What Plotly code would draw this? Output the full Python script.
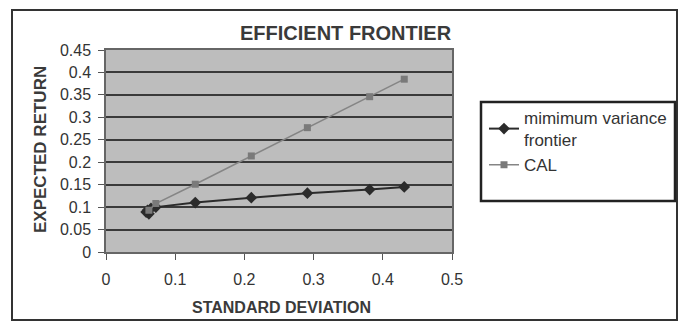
import plotly.graph_objects as go

# Data
frontier_sd = [0.062, 0.058, 0.060, 0.065, 0.072, 0.129, 0.210, 0.291, 0.381, 0.431]
frontier_er = [0.085, 0.089, 0.093, 0.097, 0.100, 0.110, 0.121, 0.131, 0.139, 0.145]
cal_sd = [0.062, 0.072, 0.129, 0.210, 0.291, 0.381, 0.431]
cal_er = [0.093, 0.108, 0.151, 0.214, 0.277, 0.346, 0.385]
x_ticks = [0, 0.1, 0.2, 0.3, 0.4, 0.5]
y_ticks = [0, 0.05, 0.1, 0.15, 0.2, 0.25, 0.3, 0.35, 0.4, 0.45]

W, H = 684, 321
L, R, T, B = 106, 452, 50, 252

def px(x):
    return (x - L) / (R - L)

def py(y):
    return (B - y) / (B - T)

FONT = "Arial, Liberation Sans, sans-serif"
TXT = "#333333"

fig = go.Figure()
fig.add_trace(go.Scatter(
    x=frontier_sd, y=frontier_er, mode="lines+markers",
    name="mimimum variance<br>frontier",
    line=dict(color="#2b2b2b", width=2),
    marker=dict(symbol="diamond", size=9, color="#2b2b2b"),
))
fig.add_trace(go.Scatter(
    x=cal_sd, y=cal_er, mode="lines+markers", name="CAL",
    line=dict(color="#858585", width=1.5),
    marker=dict(symbol="square", size=7, color="#7a7a7a"),
))

fig.update_layout(
    width=W, height=H,
    margin=dict(l=L, r=W - R, t=T, b=H - B),
    paper_bgcolor="white",
    plot_bgcolor="#bdbdbd",
    font=dict(family=FONT, color=TXT, size=16),
    showlegend=True,
    legend=dict(
        x=px(484), y=py(100), xanchor="left", yanchor="top",
        bgcolor="rgba(0,0,0,0)", borderwidth=0,
        font=dict(size=17, color=TXT), tracegroupgap=8,
    ),
    xaxis=dict(
        range=[0, 0.5], tickvals=x_ticks, ticks="outside", ticklen=6,
        tickcolor="#555", showgrid=False, zeroline=False,
        showline=True, linecolor="#666", linewidth=1.5, mirror=True,
        tickfont=dict(size=16, color=TXT), ticklabelstandoff=6,
    ),
    yaxis=dict(
        range=[0, 0.45], tickvals=y_ticks, ticks="outside", ticklen=6,
        tickcolor="#555", showgrid=True, gridcolor="#3a3a3a", gridwidth=1.5,
        zeroline=False, showline=True, linecolor="#666", linewidth=1.5, mirror=True,
        tickfont=dict(size=16, color=TXT), ticklabelstandoff=4,
    ),
    shapes=[
        dict(type="rect", xref="paper", yref="paper",
             x0=px(12), x1=px(677), y0=py(320), y1=py(10),
             line=dict(color="#333", width=2), layer="below"),
        dict(type="rect", xref="paper", yref="paper",
             x0=px(481), x1=px(675), y0=py(201), y1=py(102),
             line=dict(color="#222", width=2.5)),
    ],
    annotations=[
        dict(text="<b>EFFICIENT FRONTIER</b>", xref="paper", yref="paper",
             x=px(346), y=py(33), showarrow=False, xanchor="center", yanchor="middle",
             font=dict(size=20, color="#3a3a3a")),
        dict(text="<b>STANDARD DEVIATION</b>", xref="paper", yref="paper",
             x=px(281), y=py(307), showarrow=False, xanchor="center", yanchor="middle",
             font=dict(size=16, color="#3a3a3a")),
        dict(text="<b>EXPECTED RETURN</b>", xref="paper", yref="paper",
             x=px(40), y=py(150), showarrow=False, xanchor="center", yanchor="middle",
             textangle=-90, font=dict(size=17, color="#3a3a3a")),
    ],
)

fig.write_html("out.html")
